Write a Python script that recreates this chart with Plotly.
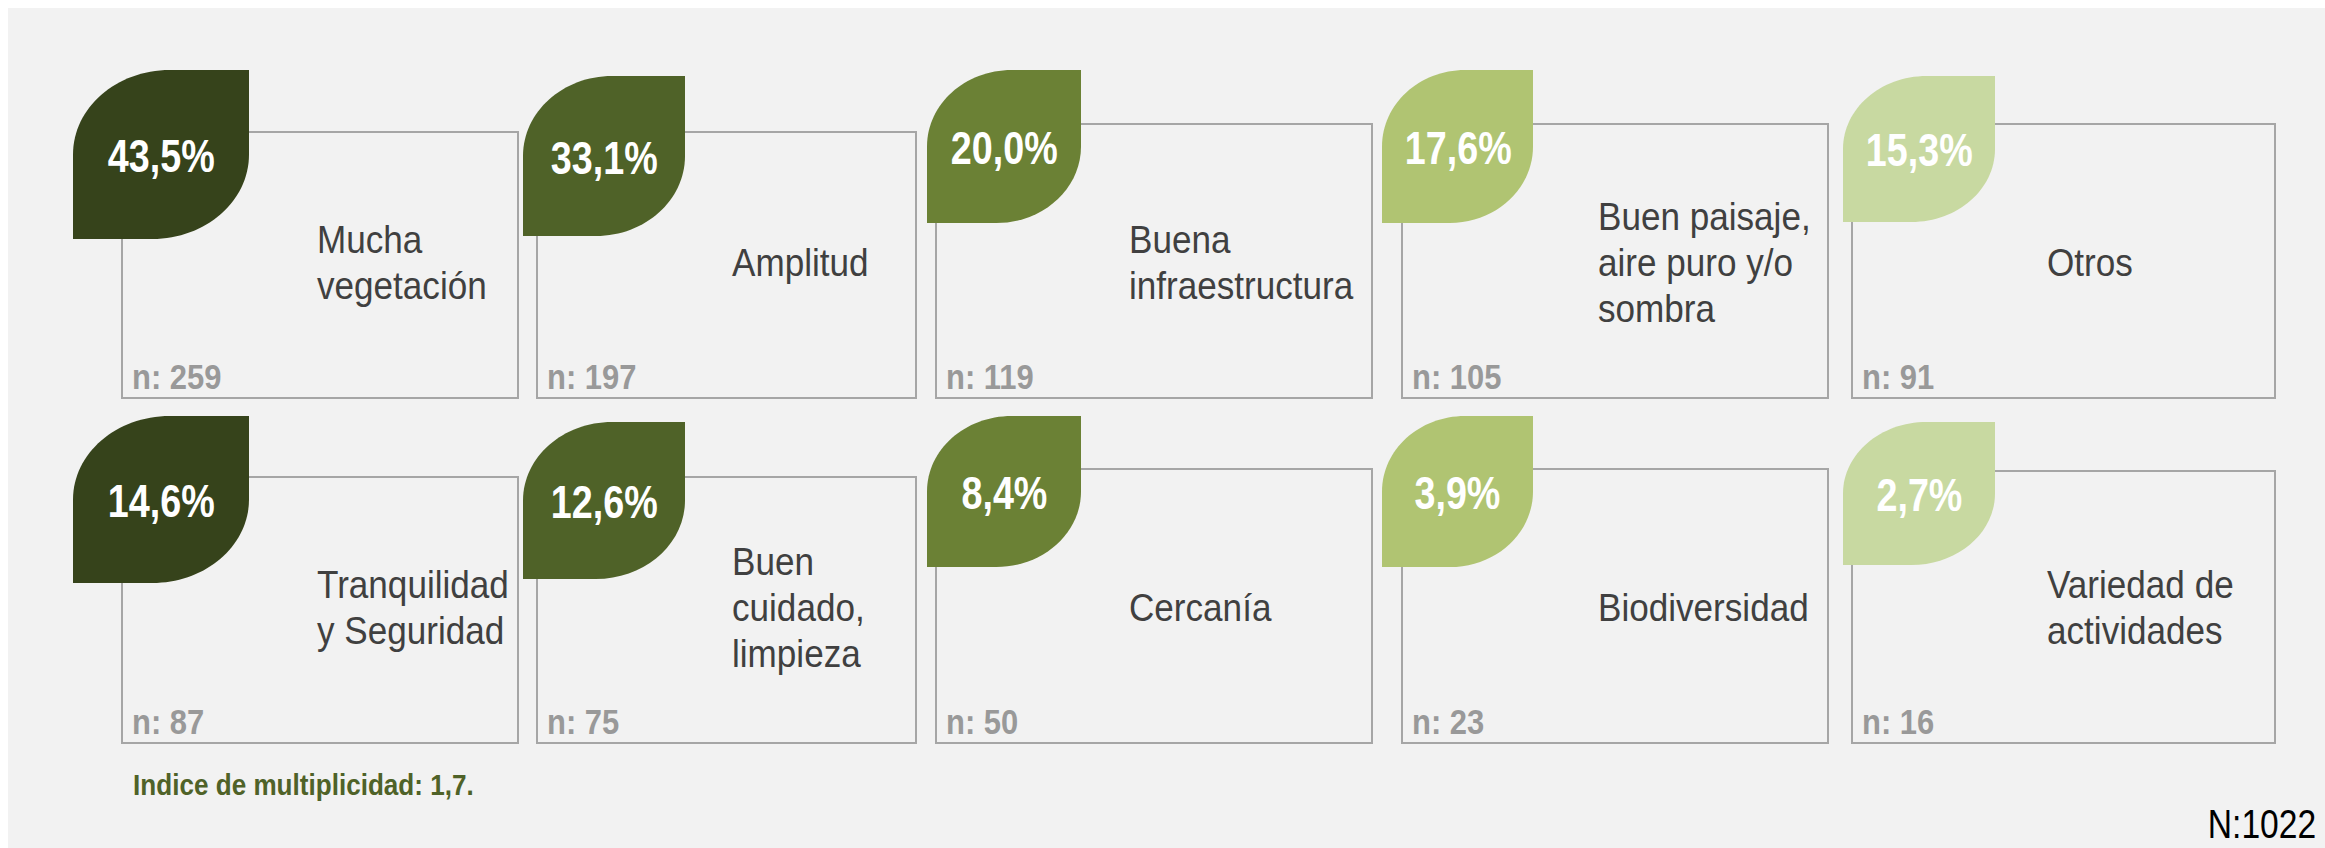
import plotly.graph_objects as go

# data
labels = ["Mucha<br>vegetación", "Amplitud", "Buena<br>infraestructura",
          "Buen paisaje,<br>aire puro y/o<br>sombra", "Otros",
          "Tranquilidad<br>y Seguridad", "Buen<br>cuidado,<br>limpieza", "Cercanía",
          "Biodiversidad", "Variedad de<br>actividades"]
percentages = [43.5, 33.1, 20.0, 17.6, 15.3, 14.6, 12.6, 8.4, 3.9, 2.7]
counts = [259, 197, 119, 105, 91, 87, 75, 50, 23, 16]
total_n = 1022
multiplicity = "1,7"

# layout of the 5x2 grid of cards (pixels)
leaf_colors = ["#36431b", "#4f6228", "#6b8135", "#b0c472", "#c8d9a1"]
box_left = [122, 537, 936, 1402, 1852]
box_right = [518, 916, 1372, 1828, 2275]
box_top = [[132, 132, 124, 124, 124], [477, 477, 469, 469, 471]]
box_bottom = [398, 743]
leaf_left = [73, 523, 927, 1382, 1843]
leaf_right = [249, 685, 1081, 1533, 1995]
leaf_top = [[70, 76, 70, 70, 76], [416, 422, 416, 416, 422]]
leaf_bottom = [[239, 236, 223, 223, 222], [583, 579, 567, 567, 565]]
text_left = [315, 730, 1127, 1596, 2045]
text_center = [262, 607]
line_gap = 46

FONT = "Liberation Sans, Arial, sans-serif"
W, H = 2325, 848
K = 0.5523


def leaf_path(x0, y0, x1, y1):
    w, h = x1 - x0, y1 - y0
    rx, ry = 0.55 * w, 0.5 * h
    return (f"M {x0},{y0 + ry} "
            f"C {x0},{y0 + ry * (1 - K)} {x0 + rx * (1 - K)},{y0} {x0 + rx},{y0} "
            f"L {x1},{y0} L {x1},{y1 - ry} "
            f"C {x1},{y1 - ry * (1 - K)} {x1 - rx * (1 - K)},{y1} {x1 - rx},{y1} "
            f"L {x0},{y1} Z")


fig = go.Figure()
shapes = [dict(type="rect", x0=8, y0=8, x1=W, y1=H, fillcolor="#f2f2f2",
               line=dict(width=0), layer="below")]
annotations = []

# the annotation "name" carries the horizontal squeeze used to mimic a narrow face
for i, label in enumerate(labels):
    row, col = divmod(i, 5)
    shapes.append(dict(type="rect", x0=box_left[col], x1=box_right[col],
                       y0=box_top[row][col], y1=box_bottom[row],
                       line=dict(color="#a6a6a6", width=2)))
    lx0, lx1 = leaf_left[col], leaf_right[col]
    ly0, ly1 = leaf_top[row][col], leaf_bottom[row][col]
    shapes.append(dict(type="path", path=leaf_path(lx0, ly0, lx1, ly1),
                       fillcolor=leaf_colors[col], line=dict(width=0)))

    pct_text = f"{percentages[i]:.1f}".replace(".", ",") + "%"
    annotations.append(dict(x=(lx0 + lx1) / 2, y=ly0 + 0.51 * (ly1 - ly0), text=pct_text,
                            showarrow=False, xanchor="center", yanchor="middle", name="0.82",
                            font=dict(family=FONT, size=46, color="white", weight="bold")))

    lines = label.split("<br>")
    for j, line in enumerate(lines):
        y = text_center[row] + (j - (len(lines) - 1) / 2) * line_gap
        annotations.append(dict(x=text_left[col], y=y, text=line, showarrow=False,
                                xanchor="left", yanchor="middle", name="0.9",
                                font=dict(family=FONT, size=39, color="#404040")))

    annotations.append(dict(x=box_left[col] + 8, y=box_bottom[row] - 22, text=f"n: {counts[i]}",
                            showarrow=False, xanchor="left", yanchor="middle", name="0.86",
                            font=dict(family=FONT, size=36, color="#999999", weight="bold")))

annotations.append(dict(x=131, y=785, text=f"Indice de multiplicidad: {multiplicity}.",
                        showarrow=False, xanchor="left", yanchor="middle", name="0.9",
                        font=dict(family=FONT, size=29, color="#4f6228", weight="bold")))
annotations.append(dict(x=2318, y=824, text=f"N:{total_n}", showarrow=False,
                        xanchor="right", yanchor="middle", name="0.82",
                        font=dict(family=FONT, size=41, color="#000000")))

fig.update_layout(
    width=W, height=H,
    margin=dict(l=0, r=0, t=0, b=0),
    paper_bgcolor="white", plot_bgcolor="white",
    shapes=shapes, annotations=annotations,
    showlegend=False,
)
fig.update_xaxes(range=[0, W], visible=False, showgrid=False, zeroline=False)
fig.update_yaxes(range=[H, 0], visible=False, showgrid=False, zeroline=False)

# drop the default body margin, and squeeze the text like a narrow typeface
post = """
document.body.style.margin = '0';
var gd = document.getElementById('{plot_id}');
gd.querySelectorAll('g.annotation').forEach(function (g) {
    var a = gd.layout.annotations[+g.getAttribute('data-index')];
    var t = g.querySelector('text.annotation-text');
    if (!t || !a) return;
    var origin = a.xanchor === 'left' ? 'left' : (a.xanchor === 'right' ? 'right' : 'center');
    t.style.transformBox = 'fill-box';
    t.style.transformOrigin = origin + ' center';
    t.style.transform = 'scaleX(' + (parseFloat(a.name) || 0.82) + ')';
});
"""
fig.write_html("out.html", config={"displayModeBar": False}, post_script=post)
